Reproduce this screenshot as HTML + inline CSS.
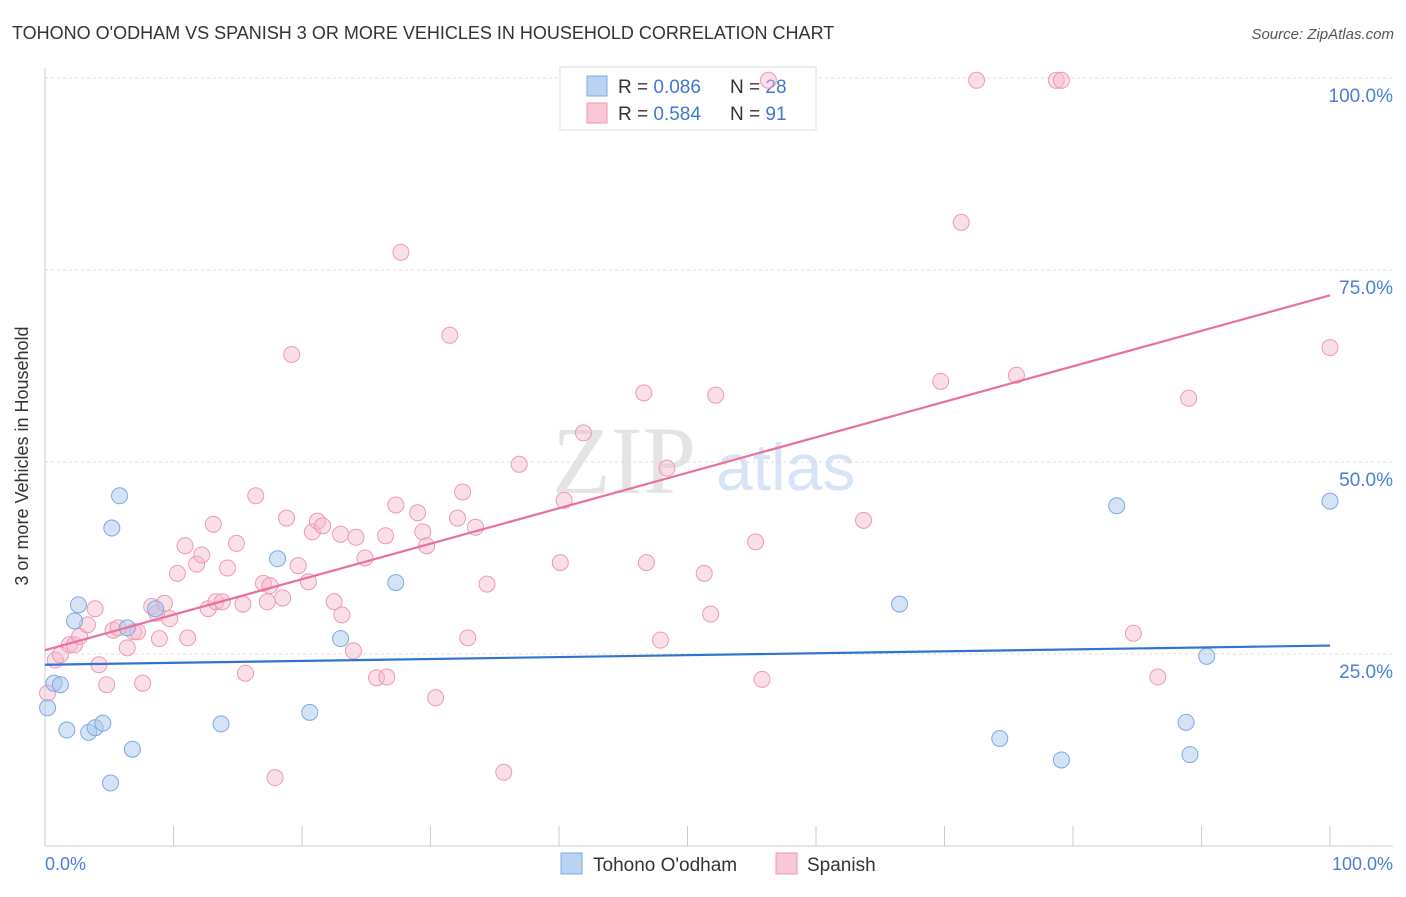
<!DOCTYPE html>
<html><head><meta charset="utf-8"><style>
body{margin:0;background:#fff;font-family:"Liberation Sans",sans-serif}
svg text{font-family:"Liberation Sans",sans-serif}
</style></head><body>
<svg width="1406" height="892" xmlns="http://www.w3.org/2000/svg">
<text x="12" y="39" font-size="18" fill="#333">TOHONO O'ODHAM VS SPANISH 3 OR MORE VEHICLES IN HOUSEHOLD CORRELATION CHART</text>
<text x="1394" y="39" font-size="15" fill="#555" font-style="italic" text-anchor="end">Source: ZipAtlas.com</text>
<g>
<text x="552" y="493" font-size="96" fill="#e4e4e4" font-family="Liberation Serif" style="font-family:'Liberation Serif',serif">ZIP</text>
<text x="716" y="490" font-size="66" fill="#d6e4f5">atlas</text>
</g>
<g id="grid"></g>
<g id="axes"></g>
<g>
<rect x="560" y="67" width="256" height="63" fill="#fff" stroke="#ddd"/>
<rect x="587" y="76" width="20" height="20" fill="#b9d3f3" stroke="#7ea9e0"/>
<rect x="587" y="103" width="20" height="20" fill="#f9c7d6" stroke="#ec9ab3"/>
<text x="618" y="93" font-size="19" fill="#333">R = <tspan fill="#3f79d0">0.086</tspan></text>
<text x="730" y="93" font-size="19" fill="#333">N = <tspan fill="#3f79d0">28</tspan></text>
<text x="618" y="120" font-size="19" fill="#333">R = <tspan fill="#3f79d0">0.584</tspan></text>
<text x="730" y="120" font-size="19" fill="#333">N = <tspan fill="#3f79d0"> 91</tspan></text>
</g>
<g id="pts"></g>
<g id="trend"></g>
<text x="28" y="456" font-size="18" fill="#333" text-anchor="middle" transform="rotate(-90 28 456)">3 or more Vehicles in Household</text>
<text x="45" y="870" font-size="18" fill="#4a7fd4">0.0%</text>
<text x="1393" y="870" font-size="18" fill="#4a7fd4" text-anchor="end">100.0%</text>
<g>
<rect x="561" y="853" width="21" height="21" fill="#b9d3f3" stroke="#7ea9e0"/>
<text x="593" y="871" font-size="19" fill="#333">Tohono O'odham</text>
<rect x="776" y="853" width="21" height="21" fill="#f9c7d6" stroke="#ec9ab3"/>
<text x="807" y="871" font-size="19" fill="#333">Spanish</text>
</g>
</svg>
<script>
const yTicks=[25,50,75,100];
const yTickLabels=["25.0%","50.0%","75.0%","100.0%"];
const xTicks=[10,20,30,40,50,60,70,80,90,100];
const blueX=[0.2,0.7,1.2,1.7,2.3,2.6,3.4,3.9,4.5,5.1,5.2,5.8,6.4,6.8,8.6,13.7,18.1,20.6,23,27.3,66.5,74.3,79.1,83.4,88.8,89.1,90.4,100];
const blueY=[18,21.2,21,15.1,29.3,31.4,14.8,15.4,16,8.2,41.4,45.6,28.4,12.6,30.9,15.9,37.4,17.4,27,34.3,31.5,14,11.2,44.3,16.1,11.9,24.7,44.9];
const pinkX=[0.2,0.8,1.2,1.9,2.3,2.7,3.3,3.9,4.2,4.8,5.3,5.7,6.4,6.9,7.2,7.6,8.3,8.7,8.9,9.3,9.7,10.3,10.9,11.1,11.8,12.2,12.7,13.1,13.3,13.8,14.2,14.9,15.4,15.6,16.4,17,17.3,17.5,18.5,18.8,19.2,17.9,19.7,20.5,20.8,21.2,21.6,22.5,23,23.1,24,24.2,24.9,25.8,26.6,26.5,27.3,27.7,29,29.4,29.7,30.4,31.5,32.1,32.5,32.9,33.5,34.4,35.7,36.9,40.1,40.4,41.9,46.6,46.8,47.9,48.4,51.3,51.8,52.2,55.3,55.8,56.3,63.7,69.7,71.3,72.5,75.6,78.7,79.1,84.7,86.6,89,100];
const pinkY=[19.9,24.2,24.9,26.2,26.2,27.3,28.8,30.9,23.6,21,28.1,28.4,25.8,27.9,27.9,21.2,31.2,30.3,27,31.6,29.6,35.5,39.1,27.1,36.7,37.9,30.9,41.9,31.8,31.8,36.2,39.4,31.5,22.5,45.6,34.2,31.8,33.9,32.3,42.7,64,8.9,36.5,34.4,40.9,42.3,41.7,31.8,40.6,30.1,25.4,40.2,37.5,21.9,22,40.4,44.4,77.3,43.4,40.9,39.1,19.3,66.5,42.7,46.1,27.1,41.5,34.1,9.6,49.7,36.9,45,53.8,59,36.9,26.8,49.2,35.5,30.2,58.7,39.6,21.7,99.7,42.4,60.5,81.2,99.7,61.3,99.7,99.7,27.7,22.0,58.3,64.9];
const blueTrend=[23.6,26.1];
const pinkTrend=[25.5,71.7];
const NS="http://www.w3.org/2000/svg";
const sx=v=>45+v/100*1285, sy=v=>846-v/100*768;
function mk(t,a,p){const e=document.createElementNS(NS,t);for(const k in a)e.setAttribute(k,a[k]);p.appendChild(e);return e;}
const grid=document.getElementById('grid');
yTicks.forEach((t,i)=>{
 const l=mk('line',{x1:45,x2:1393,y1:sy(t),y2:sy(t),stroke:'#ddd','stroke-dasharray':'3,3'},grid);
 
 
 const tx=mk('text',{x:1393,y:sy(t)+24,'font-size':19,fill:'#4a7fd4','text-anchor':'end'},grid);
 tx.textContent=yTickLabels[i];
 
 
});
const ax=document.getElementById('axes');
mk('line',{x1:45,x2:45,y1:68,y2:846,stroke:'#ccc'},ax);
mk('line',{x1:45,x2:1393,y1:846,y2:846,stroke:'#ccc'},ax);
xTicks.forEach(t=>{const l=mk('line',{x1:sx(t),x2:sx(t),y1:826,y2:846,stroke:'#ccc'},ax);
 
 });
const pts=document.getElementById('pts');
pinkX.forEach((x,i)=>{const c=mk('circle',{cx:sx(x),cy:sy(pinkY[i]),r:8,fill:'#f6b8cb','fill-opacity':0.45,stroke:'#ec9ab3','stroke-width':1},pts);
 
 });
blueX.forEach((x,i)=>{const c=mk('circle',{cx:sx(x),cy:sy(blueY[i]),r:8,fill:'#a9c8ee','fill-opacity':0.5,stroke:'#7ea9e0','stroke-width':1},pts);
 
 });
const tr=document.getElementById('trend');
const b=mk('line',{x1:sx(0),x2:sx(100),y1:sy(blueTrend[0]),y2:sy(blueTrend[1]),stroke:'#2f74d0','stroke-width':2.2},tr);


const p=mk('line',{x1:sx(0),x2:sx(100),y1:sy(pinkTrend[0]),y2:sy(pinkTrend[1]),stroke:'#e8709a','stroke-width':2.2},tr);


</script>
</body></html>
